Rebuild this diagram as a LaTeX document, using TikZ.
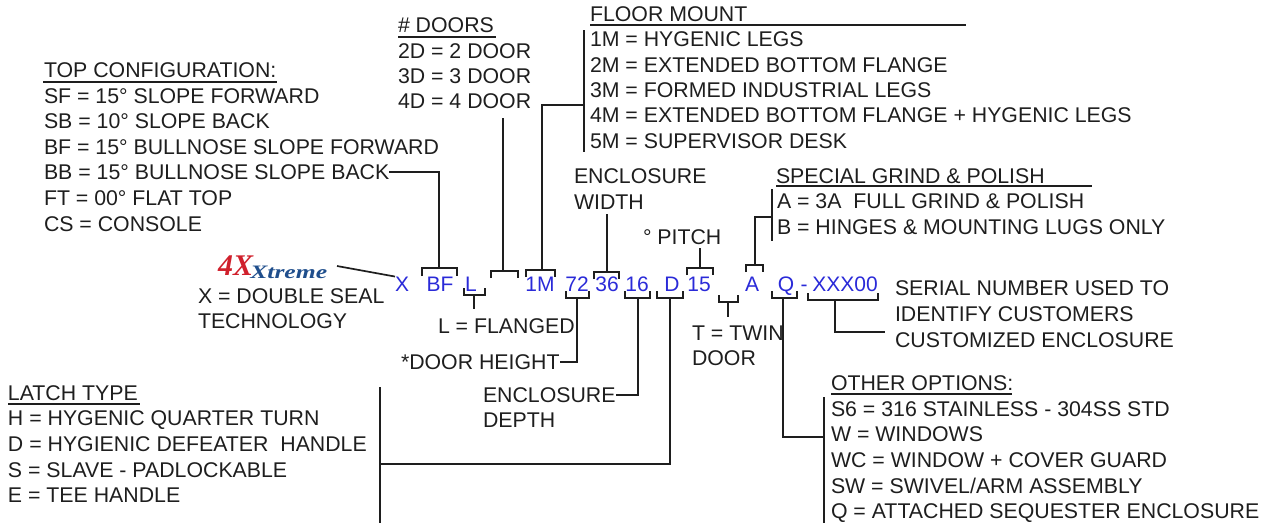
\documentclass[tikz,border=0pt]{standalone}
\usepackage{fontspec}
\setmainfont{Liberation Sans}
\newfontfamily\logofont{Liberation Serif}
\definecolor{inkgrey}{HTML}{1E1E1E}
\definecolor{codeblue}{HTML}{2A2AD8}
\definecolor{logored}{HTML}{D0202C}
\definecolor{logoblue}{HTML}{1F4E8C}
\tikzset{
	lbl/.style={anchor=base west,inner sep=0,outer sep=0,text=inkgrey,font=\fontsize{21.3}{24}\selectfont},
	code/.style={anchor=base,inner sep=0,outer sep=0,text=codeblue,font=\fontsize{21}{24}\selectfont},
	ln/.style={draw=inkgrey,line width=1.7pt}
}

\begin{document}
\begin{tikzpicture}[x=1pt,y=-1pt]
	\useasboundingbox (0,0) rectangle (1265,525);
	% top configuration
	\node[lbl] (topcfg) at (44,77) {TOP CONFIGURATION:};
	\node[lbl] (sf) at (44,103) {SF = 15° SLOPE FORWARD};
	\node[lbl] (sb) at (44,128) {SB = 10° SLOPE BACK};
	\node[lbl] (bf) at (44,154) {BF = 15° BULLNOSE SLOPE FORWARD};
	\node[lbl] (bb) at (44,179) {BB = 15° BULLNOSE SLOPE BACK};
	\node[lbl] (ft) at (44,205) {FT = 00° FLAT TOP};
	\node[lbl] (cs) at (44,231) {CS = CONSOLE};
	% doors
	\node[lbl] (doors) at (398,32) {\# DOORS};
	\node[lbl] (d2) at (398,58) {2D = 2 DOOR};
	\node[lbl] (d3) at (398,83) {3D = 3 DOOR};
	\node[lbl] (d4) at (398,108) {4D = 4 DOOR};
	% floor mount
	\node[lbl] (floor) at (590,21) {FLOOR MOUNT};
	\node[lbl] (m1) at (590,46) {1M = HYGENIC LEGS};
	\node[lbl] (m2) at (590,72) {2M = EXTENDED BOTTOM FLANGE};
	\node[lbl] (m3) at (590,97) {3M = FORMED INDUSTRIAL LEGS};
	\node[lbl] (m4) at (590,122) {4M = EXTENDED BOTTOM FLANGE + HYGENIC LEGS};
	\node[lbl] (m5) at (590,148) {5M = SUPERVISOR DESK};
	% width and pitch
	\node[lbl] (encw1) at (574,183) {ENCLOSURE};
	\node[lbl] (encw2) at (574,209) {WIDTH};
	\node[lbl] (pitch) at (643,244) {° PITCH};
	% grind and polish
	\node[lbl] (grind) at (776,183) {SPECIAL GRIND \& POLISH};
	\node[lbl] (ga) at (777,208) {A = 3A\ \ FULL GRIND \& POLISH};
	\node[lbl] (gb) at (777,234) {B = HINGES \& MOUNTING LUGS ONLY};
	% logo
	\node[anchor=base west,inner sep=0,text=logored,font=\logofont\bfseries\itshape\fontsize{30}{30}\selectfont] (logo4x) at (218,275) {4X};
	\node[anchor=base west,inner sep=0,text=logoblue,xscale=1.35,font=\logofont\bfseries\itshape\fontsize{19}{20}\selectfont] (logox) at (250,278) {Xtreme};
	\node[lbl] (seal1) at (198,303) {X = DOUBLE SEAL};
	\node[lbl] (seal2) at (198,328) {TECHNOLOGY};
	% part number
	\node[code] (cx) at (402,291) {X};
	\node[code] (cbf) at (440,291) {BF};
	\node[code] (cl) at (471,291) {L};
	\node[code] (c1m) at (540,291) {1M};
	\node[code] (c72) at (577,291) {72};
	\node[code] (c36) at (607,291) {36};
	\node[code] (c16) at (637,291) {16};
	\node[code] (cd) at (672,291) {D};
	\node[code] (c15) at (699,291) {15};
	\node[code] (ca) at (752,291) {A};
	\node[code] (cq) at (786,291) {Q};
	\node[code] (cdash) at (804,291) {-};
	\node[code] (cxxx) at (845,291) {XXX00};
	% lower labels
	\node[lbl] (flanged) at (438,333) {L = FLANGED};
	\node[lbl] (height) at (401,369) {*DOOR HEIGHT};
	\node[lbl] (encd1) at (483,402) {ENCLOSURE};
	\node[lbl] (encd2) at (483,427) {DEPTH};
	\node[lbl] (twin1) at (692,340) {T = TWIN};
	\node[lbl] (twin2) at (692,365) {DOOR};
	% serial
	\node[lbl] (serial1) at (895,295) {SERIAL NUMBER USED TO};
	\node[lbl] (serial2) at (895,321) {IDENTIFY CUSTOMERS};
	\node[lbl] (serial3) at (895,347) {CUSTOMIZED ENCLOSURE};
	% other options
	\node[lbl] (other) at (831,390) {OTHER OPTIONS:};
	\node[lbl] (o1) at (831,416) {S6 = 316 STAINLESS - 304SS STD};
	\node[lbl] (o2) at (831,441) {W = WINDOWS};
	\node[lbl] (o3) at (831,467) {WC = WINDOW + COVER GUARD};
	\node[lbl] (o4) at (831,493) {SW = SWIVEL/ARM ASSEMBLY};
	\node[lbl] (o5) at (831,518) {Q = ATTACHED SEQUESTER ENCLOSURE};
	% latch
	\node[lbl] (latch) at (8,400) {LATCH TYPE};
	\node[lbl] (l1) at (8,425) {H = HYGENIC QUARTER TURN};
	\node[lbl] (l2) at (8,451) {D = HYGIENIC DEFEATER\ \ HANDLE};
	\node[lbl] (l3) at (8,477) {S = SLAVE - PADLOCKABLE};
	\node[lbl] (l4) at (8,502) {E = TEE HANDLE};
	% free ends
	\coordinate (tbf) at (439,268);
	\coordinate (tdoor) at (503,271);
	\coordinate (fdoor) at (503,118);
	\coordinate (t1m) at (542,270);
	\coordinate (t36) at (607,272);
	\coordinate (f36) at (607,214);
	\coordinate (t15) at (700,268);
	\coordinate (f15) at (700,248);
	\coordinate (ta) at (755,265);
	\coordinate (bl) at (474,295);
	\coordinate (fl) at (474,309);
	\coordinate (b72) at (577,298);
	\coordinate (b16) at (638,298);
	\coordinate (bd) at (670,298);
	\coordinate (btwin) at (728,302);
	\coordinate (ftwin) at (728,317);
	\coordinate (bq) at (783,298);
	\coordinate (bxxx) at (835,300);
	\coordinate (fxxx) at (885,332);
	\coordinate (flogo) at (337,266);
	\coordinate (floorbar) at (584,105);
	\coordinate (grindbar) at (772,217);
	\coordinate (latchbar) at (380,464);
	\coordinate (otherbar) at (824,437);
	% brackets
	\draw[ln] (422,276) -- (422,268) -- (457,268) -- (457,276);
	\draw[ln] (491,278) -- (491,271) -- (518,271) -- (518,278);
	\draw[ln] (526,277) -- (526,270) -- (555,270) -- (555,277);
	\draw[ln] (594,279) -- (594,272) -- (619,272) -- (619,279);
	\draw[ln] (687,275) -- (687,268) -- (713,268) -- (713,275);
	\draw[ln] (746,272) -- (746,265) -- (763,265) -- (763,272);
	\draw[ln] (464,288) -- (464,295) -- (485,295) -- (485,288);
	\draw[ln] (566,291) -- (566,298) -- (589,298) -- (589,291);
	\draw[ln] (625,291) -- (625,298) -- (650,298) -- (650,291);
	\draw[ln] (657,291) -- (657,298) -- (683,298) -- (683,291);
	\draw[ln] (719,295) -- (719,302) -- (738,302) -- (738,295);
	\draw[ln] (772,291) -- (772,298) -- (797,298) -- (797,291);
	\draw[ln] (808,293) -- (808,300) -- (878,300) -- (878,293);
	% connectors
	\draw[ln] (flogo) -- (cx.north west);
	\draw[ln] (bb.east) -| (tbf);
	\draw[ln] (fdoor) -- (tdoor);
	\draw[ln] (floorbar) -| (t1m);
	\draw[ln] (f36) -- (t36);
	\draw[ln] (f15) -- (t15);
	\draw[ln] (grindbar) -| (ta);
	\draw[ln] (bl) -- (fl);
	\draw[ln] (b72) |- (height.east);
	\draw[ln] (b16) |- (encd1.east);
	\draw[ln] (bd) |- (latchbar);
	\draw[ln] (btwin) -- (ftwin);
	\draw[ln] (bq) |- (otherbar);
	\draw[ln] (bxxx) |- (fxxx);
	% bars and underlines
	\draw[ln] (584,30) -- (floorbar) -- (584,152);
	\draw[ln] (772,189) -- (grindbar) -- (772,241);
	\draw[ln] (380,387) -- (latchbar) -- (380,523);
	\draw[ln] (824,397) -- (otherbar) -- (824,523);
	\draw[ln] (43,82) -- (277,82);
	\draw[ln] (398,37) -- (496,37);
	\draw[ln] (590,25) -- (966,25);
	\draw[ln] (776,186) -- (1092,186);
	\draw[ln] (831,394) -- (1012,394);
	\draw[ln] (8,404) -- (140,404);
\end{tikzpicture}
\end{document}
